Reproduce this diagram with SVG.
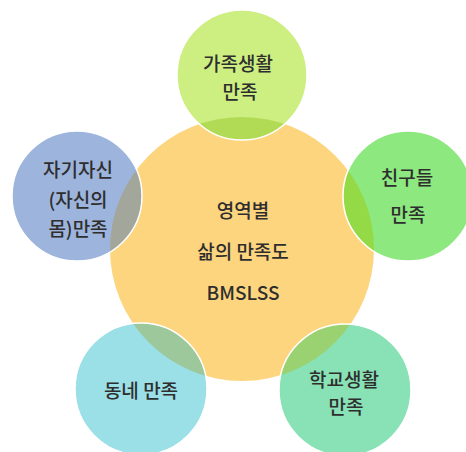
<svg xmlns="http://www.w3.org/2000/svg" width="466" height="452" viewBox="0 0 466 452">
<style>
.edge{fill:none;stroke:#ffffff;stroke-width:1.5}
.t{font-family:"Noto Sans CJK KR","Noto Sans",sans-serif;font-size:19px;font-weight:500;fill:#2e2e2e;text-anchor:middle}
</style>
<defs>
<clipPath id="core"><circle cx="242" cy="249" r="132"/></clipPath>
</defs>
<rect width="466" height="452" fill="#ffffff"/>
<g id="center">
<circle cx="242" cy="249" r="132" fill="#fdd57e"/>
<text class="t" x="243" y="218">영역별</text>
<text class="t" x="243" y="259">삶의 만족도</text>
<text class="t" x="243" y="300">BMSLSS</text>
</g>
<g id="connectors"></g>
<g id="family">
<circle cx="242" cy="75" r="65" fill="#cdee80"/>
<circle cx="242" cy="75" r="65" fill="#b2db55" clip-path="url(#core)"/>
<circle class="edge" cx="242" cy="75" r="65"/>
<text class="t" x="238" y="71">가족생활</text>
<text class="t" x="240" y="99">만족</text>
</g>
<g id="friends">
<circle cx="408" cy="196" r="65" fill="#8de87f"/>
<circle cx="408" cy="196" r="65" fill="#94da46" clip-path="url(#core)"/>
<circle class="edge" cx="408" cy="196" r="65"/>
<text class="t" x="407" y="185">친구들</text>
<text class="t" x="408" y="222">만족</text>
</g>
<g id="school">
<circle cx="345" cy="390" r="66" fill="#88e2b6"/>
<circle cx="345" cy="390" r="66" fill="#9bd271" clip-path="url(#core)"/>
<circle class="edge" cx="345" cy="390" r="66"/>
<text class="t" x="344" y="387">학교생활</text>
<text class="t" x="346" y="414">만족</text>
</g>
<g id="neighborhood">
<circle cx="141" cy="389" r="66" fill="#9bdfe7"/>
<circle cx="141" cy="389" r="66" fill="#9cc89c" clip-path="url(#core)"/>
<circle class="edge" cx="141" cy="389" r="66"/>
<text class="t" x="141" y="398">동네 만족</text>
</g>
<g id="self">
<circle cx="77" cy="196" r="65" fill="#9db4dd"/>
<circle cx="77" cy="196" r="65" fill="#a3a69b" clip-path="url(#core)"/>
<circle class="edge" cx="77" cy="196" r="65"/>
<text class="t" x="78" y="177">자기자신</text>
<text class="t" x="78" y="207">(자신의</text>
<text class="t" x="78" y="236">몸)만족</text>
</g>
</svg>
